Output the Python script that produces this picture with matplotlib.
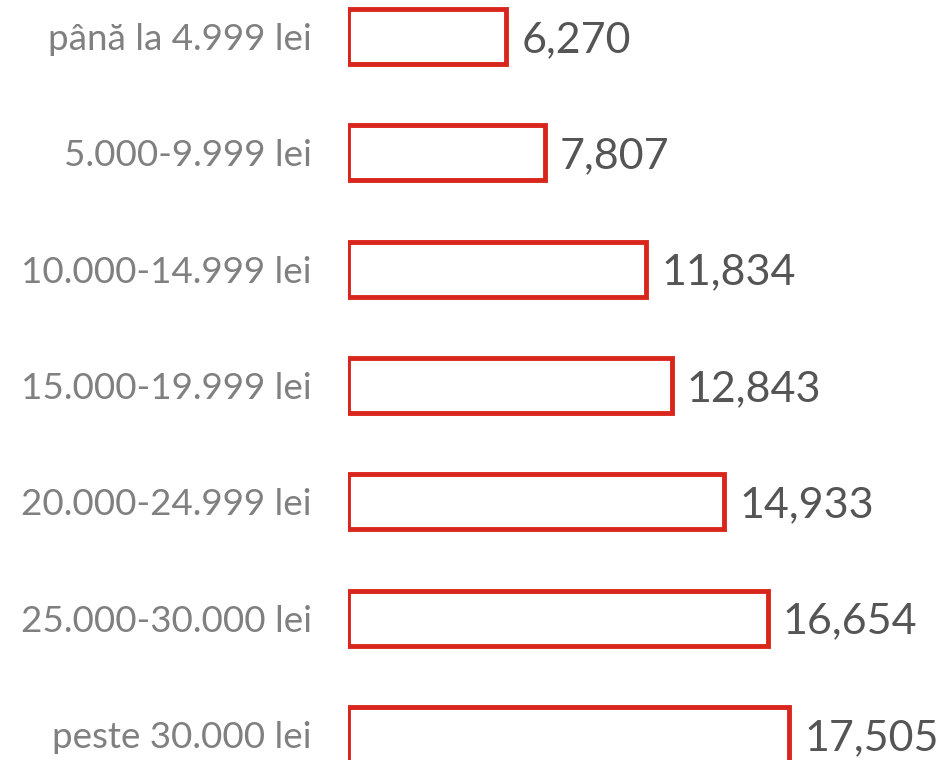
import matplotlib.pyplot as plt

categories = ["până la 4.999 lei", "5.000-9.999 lei", "10.000-14.999 lei",
              "15.000-19.999 lei", "20.000-24.999 lei", "25.000-30.000 lei",
              "peste 30.000 lei"]
values = [6270, 7807, 11834, 12843, 14933, 16654, 17505]

plt.rcParams["font.family"] = ["Lato", "DejaVu Sans"]

W, H = 943, 760
fig = plt.figure(figsize=(W / 100, H / 100), dpi=100)
left_px = 348
ax = fig.add_axes([left_px / W, 0, 1 - left_px / W, 1])

# pixel scale: 17505 -> 789 px
scale = (789 - left_px) / 17505
ax.set_xlim(0, (W - left_px) / scale)

pitch = 116.3
first = 36.5
ax.set_ylim((H - first) / pitch, -first / pitch)

y = list(range(len(categories)))
ax.barh(y, values, height=55 / pitch, facecolor="white",
        edgecolor="#d9261c", linewidth=3.5, clip_on=True)

for yi, v, c in zip(y, values, categories):
    ax.annotate(f"{v:,}", (v, yi), xytext=(11, 0), textcoords="offset points",
                ha="left", va="center_baseline", fontsize=31, color="#555555")
    ax.annotate(c, (0, yi), xytext=(-26, 0), textcoords="offset points",
                ha="right", va="center_baseline", fontsize=26.5, color="#808080",
                annotation_clip=False)

ax.axis("off")
fig.savefig("out.png", dpi=100)
